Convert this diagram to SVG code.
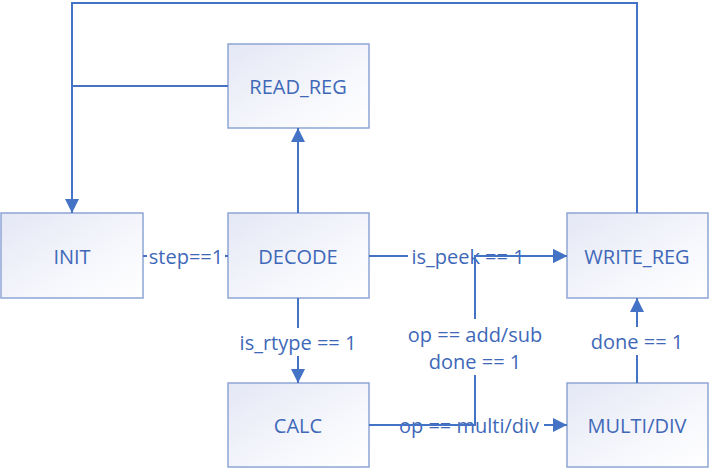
<svg xmlns="http://www.w3.org/2000/svg" width="710" height="469" viewBox="0 0 710 469">
<defs>
<linearGradient id="g" x1="0" y1="0" x2="1" y2="1">
<stop offset="0" stop-color="#e4e7f5"/>
<stop offset="0.6" stop-color="#f6f7fc"/>
<stop offset="1" stop-color="#ffffff"/>
</linearGradient>
<marker id="arr" viewBox="0 0 14 14" refX="14" refY="7" markerWidth="14" markerHeight="14" markerUnits="userSpaceOnUse" orient="auto">
<path d="M0,0 L14,7 L0,14 Z" fill="#4472c4"/>
</marker>
<style>
.box{fill:url(#g);stroke:#8ea5d6;stroke-width:1.5}
.t{font-family:"Open Sans","Noto Sans","DejaVu Sans",sans-serif;font-size:20px;fill:#4068b8;text-anchor:middle;dominant-baseline:central}
.c{fill:none;stroke:#4472c4;stroke-width:2}
.bg{fill:#ffffff}
</style>
</defs>
<g id="nodes">
<g id="INIT"><rect class="box" x="1" y="213" width="142" height="85"/><text class="t" x="72" y="256">INIT</text></g>
<g id="DECODE"><rect class="box" x="228" y="213" width="141" height="85"/><text class="t" x="298" y="256">DECODE</text></g>
<g id="READ_REG"><rect class="box" x="228" y="44" width="141" height="84"/><text class="t" x="298" y="86">READ_REG</text></g>
<g id="CALC"><rect class="box" x="228" y="383" width="141" height="84"/><text class="t" x="298" y="425">CALC</text></g>
<g id="WRITE_REG"><rect class="box" x="567" y="213" width="141" height="85"/><text class="t" x="637" y="256">WRITE_REG</text></g>
<g id="MULTI_DIV"><rect class="box" x="567" y="383" width="141" height="84"/><text class="t" x="637" y="425">MULTI/DIV</text></g>
</g>
<g id="connectors">
<path class="c" d="M637,213 V3 H72 V213" marker-end="url(#arr)"/>
<path class="c" d="M228,86 H72"/>
<path class="c" d="M298,213 V128" marker-end="url(#arr)"/>
<path class="c" d="M143,256 H228" marker-end="url(#arr)"/>
<rect class="bg" x="147" y="244" width="78" height="24"/>
<text class="t" x="186" y="256">step==1</text>
<path class="c" d="M298,298 V383" marker-end="url(#arr)"/>
<rect class="bg" x="236" y="328" width="124" height="28"/>
<text class="t" x="298" y="342">is_rtype == 1</text>
<path class="c" d="M637,383 V298" marker-end="url(#arr)"/>
<rect class="bg" x="588" y="327" width="98" height="28"/>
<text class="t" x="637" y="341">done == 1</text>
<path class="c" d="M369,256 H567" marker-end="url(#arr)"/>
<rect class="bg" x="408" y="244" width="120" height="24"/>
<text class="t" x="468" y="256">is_peek == 1</text>
<path class="c" d="M369,425 H567" marker-end="url(#arr)"/>
<rect class="bg" x="394" y="413" width="150" height="24"/>
<text class="t" x="469" y="425">op == multi/div</text>
<path class="c" d="M369,425 H475 V256 H567" marker-end="url(#arr)"/>
<rect class="bg" x="404" y="319" width="142" height="56"/>
<text class="t" x="475" y="334">op == add/sub</text>
<text class="t" x="475" y="361">done == 1</text>
</g>
</svg>
